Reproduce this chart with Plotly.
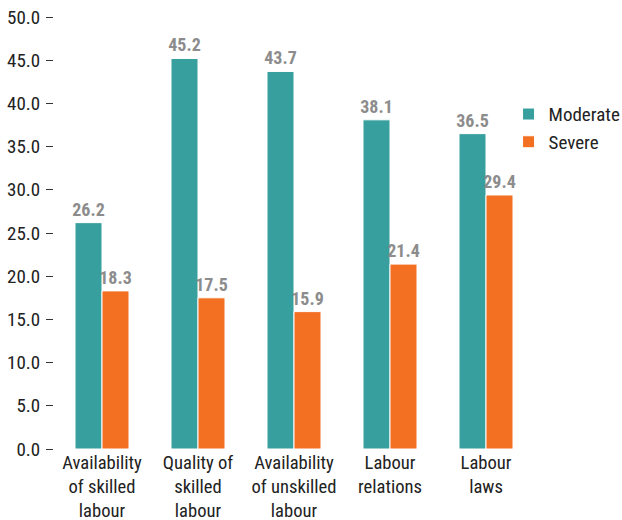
import plotly.graph_objects as go

categories = ["Availability<br>of skilled<br>labour", "Quality of<br>skilled<br>labour",
              "Availability<br>of unskilled<br>labour", "Labour<br>relations", "Labour<br>laws"]
moderate = [26.2, 45.2, 43.7, 38.1, 36.5]
severe = [18.3, 17.5, 15.9, 21.4, 29.4]
tick_vals = [0, 5, 10, 15, 20, 25, 30, 35, 40, 45, 50]

FONT = "Roboto Condensed, Liberation Sans Narrow, sans-serif"
TEAL = "#379f9d"
ORANGE = "#f37022"

fig = go.Figure()
for name, vals, col in [("Moderate", moderate, TEAL), ("Severe", severe, ORANGE)]:
    fig.add_trace(go.Bar(
        x=categories, y=vals, name=name,
        marker=dict(color=col, line=dict(color="white", width=1)),
        text=[f"{v:.1f}" for v in vals], textposition="outside",
        textfont=dict(family=FONT, size=18, color="#8c8c8c", weight="bold"),
        constraintext="none",
        cliponaxis=False,
    ))

fig.update_layout(
    width=622, height=520,
    margin=dict(l=54, r=88, t=17, b=71, autoexpand=False),
    paper_bgcolor="white", plot_bgcolor="white",
    barmode="group", bargap=0.4375, bargroupgap=0,
    font=dict(family=FONT, size=19, color="#222222"),
    showlegend=True,
    legend=dict(x=0.947, y=0.819, xanchor="left", yanchor="top",
                font=dict(family=FONT, size=19, color="#222222"),
                itemwidth=30, tracegroupgap=4, bgcolor="rgba(0,0,0,0)"),
    xaxis=dict(showline=False, showgrid=False, ticks="", tickfont=dict(size=18.6),
               automargin=False, ticklabeloverflow="allow"),
    yaxis=dict(range=[0, 50], tickvals=tick_vals, tickformat=".1f",
               showgrid=False, showline=False, zeroline=False,
               ticks="outside", ticklen=7, tickcolor="#333333", tickwidth=1,
               tickfont=dict(size=19), ticklabelstandoff=2, automargin=False,
               ticklabeloverflow="allow"),
)

fig.write_html(
    "out.html",
    config={"displayModeBar": False},
    post_script="document.body.style.margin='0';document.body.style.overflow='hidden';"
                "document.documentElement.style.overflow='hidden';",
)
